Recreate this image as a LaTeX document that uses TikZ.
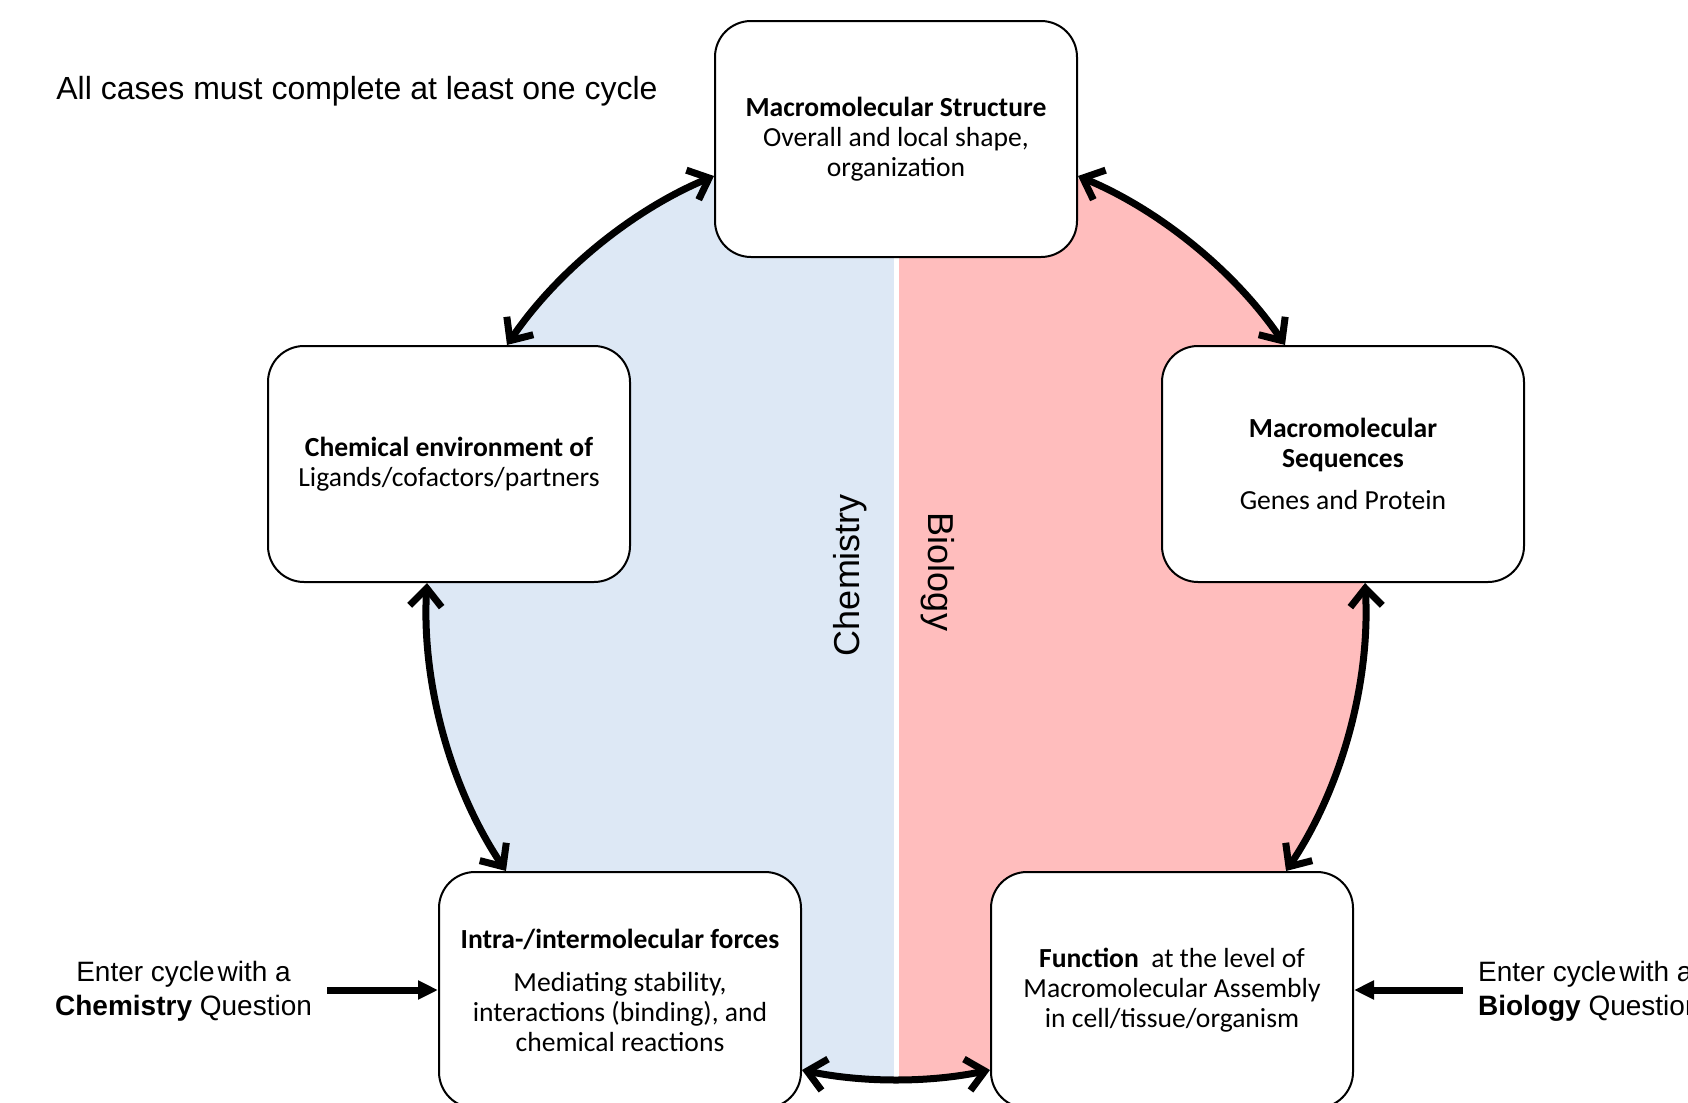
\documentclass[tikz,border=0pt]{standalone}
\usepackage{fontspec}
\setmainfont{Carlito}
\newfontfamily\arialfont{Liberation Sans}
\usepackage{tikz}
\usetikzlibrary{arrows.meta}
\usetikzlibrary{positioning}
\usepackage{xcolor}

\definecolor{chemblue}{HTML}{DDE8F5}
\definecolor{biopink}{HTML}{FFBDBD}

\tikzset{
  stagebox/.style={draw, line width=1pt, fill=white, rounded corners=18pt,
    minimum width=181pt, minimum height=118pt, align=center,
    font=\fontsize{13.8}{15}\selectfont},
  cycarrow/.style={{Straight Barb[length=9pt,width=16pt]}-{Straight Barb[length=9pt,width=16pt]},
    line width=3.5pt, looseness=0.85},
  entry/.style={-{Triangle[length=10pt,width=9pt]}, line width=3.5pt, shorten <=4pt},
  sidetext/.style={font=\arialfont\fontsize{14}{17}\selectfont},
  sidelabel/.style={font=\arialfont\fontsize{18}{20}\selectfont},
}

\begin{document}
\begin{tikzpicture}[x=0.5pt, y=0.5pt] % cycle of questions
\useasboundingbox (0,0) rectangle (1688,-1103);
\clip (0,0) rectangle (1688,-1103);

%background halves
\coordinate (c) at (896,-610);
\begin{scope}
\clip (c) circle (468);
\fill[chemblue] (0,0) rectangle (893.5,-1103);
\fill[biopink] (898.5,0) rectangle (1688,-1103);
\end{scope}

%side labels
\node[sidelabel, rotate=90] (chemlbl) at (850,-575) {Chemistry};
\node[sidelabel, rotate=-90] (biolbl) at (938,-572) {Biology};

%boxes
\node[stagebox] (struct) at (896,-139) {\textbf{Macromolecular Structure}\\Overall and local shape,\\organization};
\node[stagebox] (chemenv) at (449,-464) {\textbf{Chemical environment of}\\Ligands/cofactors/partners};
\node[stagebox] (seq) at (1343,-464) {\textbf{Macromolecular}\\\textbf{Sequences}\\[6pt]Genes and Protein};
\node[stagebox] (forces) at (620,-990) {\textbf{Intra-/intermolecular forces}\\[6.5pt]Mediating stability,\\interactions (binding), and\\chemical reactions};
\node[stagebox] (func) at (1172,-990) {\textbf{Function}\ \ at the level of\\Macromolecular Assembly\\in cell/tissue/organism};

%texts
\node[font=\arialfont\fontsize{16}{18}\selectfont, anchor=west, inner sep=0pt] (note) at (56,-91) {All cases must complete at least one cycle};
\node[sidetext, align=center, anchor=east] (chemq) at (319,-991) {Enter cycle\hspace{0.1em}with a\\\textbf{Chemistry} Question};
\node[sidetext, align=left, anchor=west] (bioq) at (1471,-991) {Enter cycle\hspace{0.1em}with a\\\textbf{Biology} Question};

%cycle arrows
\draw[cycarrow] ([xshift=29pt]chemenv.north) to[bend left=16.6] ([yshift=-18.5pt]struct.west);
\draw[cycarrow] ([yshift=-18.5pt]struct.east) to[bend left=16.6] ([xshift=-29pt]seq.north);
\draw[cycarrow] ([xshift=-11pt]chemenv.south) to[bend right=18.6] ([xshift=-57pt]forces.north);
\draw[cycarrow] ([xshift=11pt]seq.south) to[bend left=18.6] ([xshift=57pt]func.north);
\draw[cycarrow] ([yshift=-40pt]forces.east) to[bend right=11.8] ([yshift=-40pt]func.west);

%entry arrows
\draw[entry] (chemq.east |- forces.west) -- (forces.west);
\draw[entry] (bioq.west |- func.east) -- (func.east);

\end{tikzpicture}
\end{document}
